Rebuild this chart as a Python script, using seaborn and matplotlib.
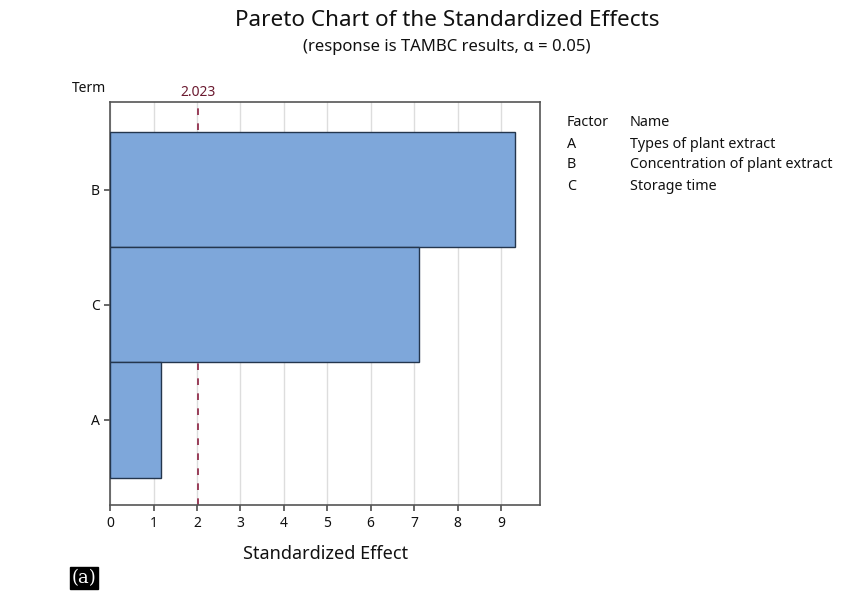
import matplotlib
matplotlib.use("Agg")
import matplotlib.pyplot as plt
import seaborn as sns
import pandas as pd

terms = ["B", "C", "A"]
effects = [9.33, 7.12, 1.17]
critical = 2.023
factor_codes = ["A", "B", "C"]
factor_names = ["Types of plant extract", "Concentration of plant extract", "Storage time"]
xticks = list(range(0, 10))

sns.set_theme(style="white")
plt.rcParams['font.family'] = ['Noto Sans', 'DejaVu Sans']
plt.rcParams['text.color'] = '#111111'
plt.rcParams['axes.labelcolor'] = '#111111'
plt.rcParams['xtick.color'] = '#111111'
plt.rcParams['ytick.color'] = '#111111'

df = pd.DataFrame({"Term": terms, "Effect": effects})

fig = plt.figure(figsize=(8.6, 6), dpi=100)
ax = fig.add_axes([0.128, 0.158, 0.5, 0.672])

sns.barplot(data=df, x="Effect", y="Term", order=terms, orient="h", width=1.0,
            color="#7ea7da", saturation=1, edgecolor="#24364d", linewidth=1.0, ax=ax, zorder=3)

ax.set_xlim(0, 9.9)
ax.set_ylim(2.74, -0.76)
ax.set_xticks(xticks)
ax.set_xticklabels([str(t) for t in xticks], fontsize=10)
ax.tick_params(axis="y", labelsize=10, length=4, direction="out", left=True, color="#555555")
ax.tick_params(axis="x", length=4, direction="out", bottom=True, color="#555555")
ax.grid(axis="x", color="#dddddd", linewidth=1.0, zorder=0)
ax.set_axisbelow(True)
for s in ax.spines.values():
    s.set_color("#555555")
    s.set_linewidth(1.2)

ax.axvline(critical, color="#8b2040", linestyle=(0, (4, 5)), linewidth=1.2, zorder=2)
ax.text(critical, -0.78, f"{critical:.3f}", color="#6b1a30", ha="center", va="bottom", fontsize=10)

ax.set_xlabel("Standardized Effect", fontsize=13, labelpad=10)
ax.set_ylabel("")
fig.text(72/860, 1-88/600, "Term", fontsize=10, ha="left", va="center")

fig.text(447/860, 1-20/600, "Pareto Chart of the Standardized Effects", fontsize=16.2, ha="center", va="center")
fig.text(447/860, 1-47/600, "(response is TAMBC results, α = 0.05)", fontsize=12, ha="center", va="center")

fig.text(567/860, 1-122/600, "Factor", fontsize=10.3, ha="left", va="center")
fig.text(630/860, 1-122/600, "Name", fontsize=10.3, ha="left", va="center")
for i, (c, n) in enumerate(zip(factor_codes, factor_names)):
    y = 1 - (144 + 21*i)/600
    fig.text(567/860, y, c, fontsize=10.3, ha="left", va="center")
    fig.text(630/860, y, n, fontsize=10.3, ha="left", va="center")

fig.text(84/860, 1-578/600, "(a)", fontsize=13, ha="center", va="center", color="white",
         family="DejaVu Serif",
         bbox=dict(facecolor="black", edgecolor="black", boxstyle="square,pad=0.1"))

fig.savefig("out.png", dpi=100)
